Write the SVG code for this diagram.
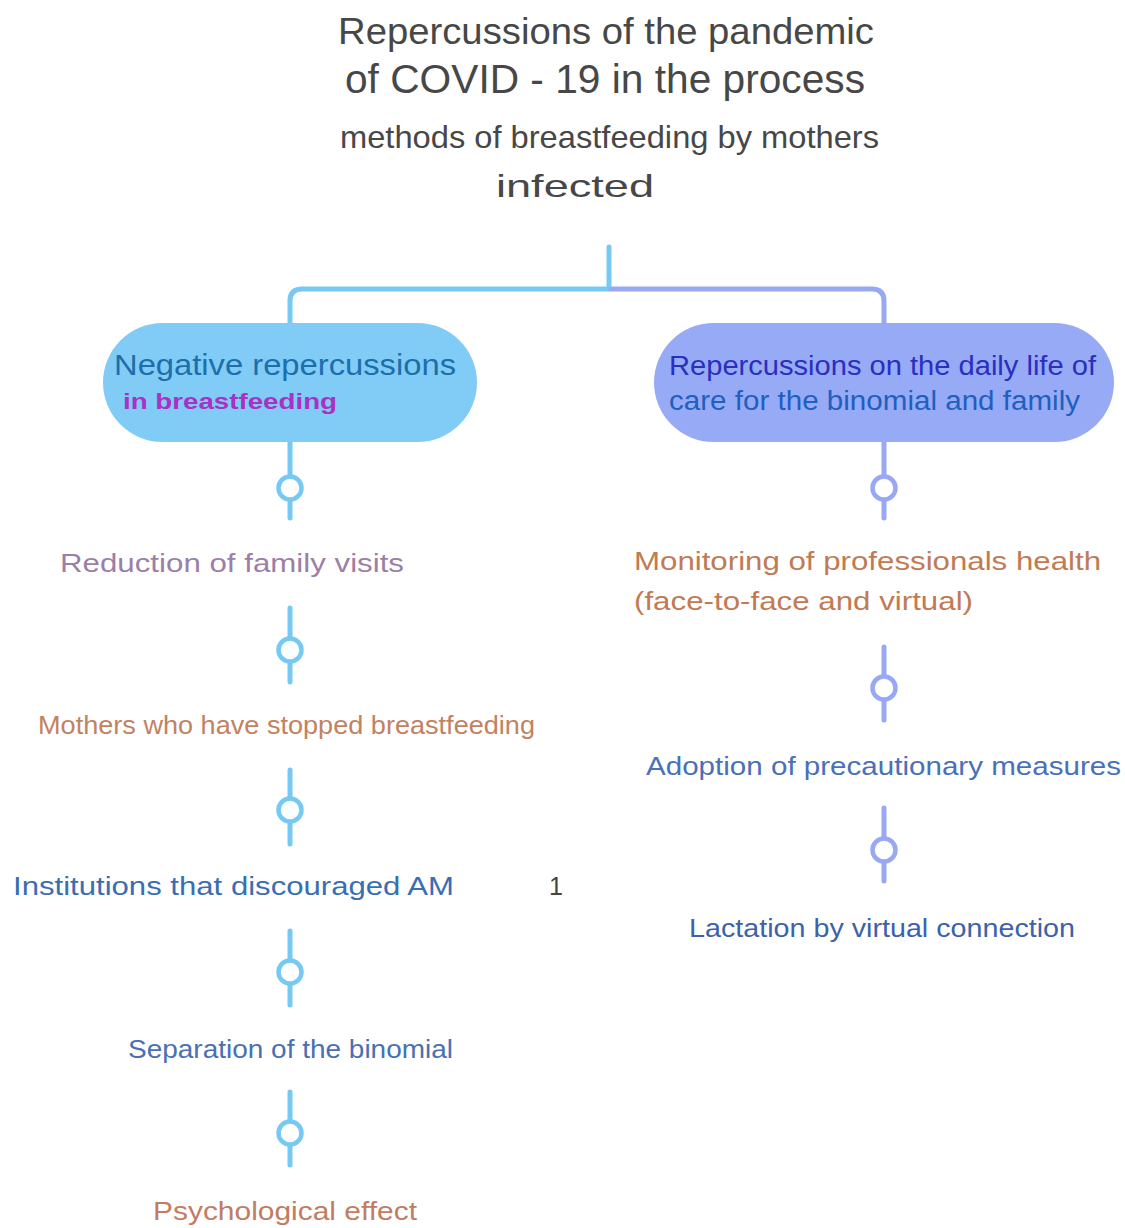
<svg xmlns="http://www.w3.org/2000/svg" width="1125" height="1228" viewBox="0 0 1125 1228">
<style>
text{font-family:"Liberation Sans",Arial,sans-serif}
.title{fill:#474747}
.lb{stroke:#76c9f2;stroke-width:5;fill:none;stroke-linecap:round}
.rb{stroke:#98a8f3;stroke-width:5;fill:none;stroke-linecap:round}
.cl{fill:#fff;stroke:#76c9f2;stroke-width:4.5}
.cr{fill:#fff;stroke:#98a8f3;stroke-width:4.5}
.item{font-size:25px}
</style>
<rect width="1125" height="1228" fill="#fff"/>
<g id="title">
<text class="title" x="338" y="44" font-size="36" textLength="536" lengthAdjust="spacingAndGlyphs">Repercussions of the pandemic</text>
<text class="title" x="345" y="93" font-size="40" textLength="520" lengthAdjust="spacingAndGlyphs">of COVID - 19 in the process</text>
<text class="title" x="340" y="148" font-size="32" textLength="539" lengthAdjust="spacingAndGlyphs">methods of breastfeeding by mothers</text>
<text class="title" x="496" y="197" font-size="32" textLength="158" lengthAdjust="spacingAndGlyphs">infected</text>
</g>
<g id="connectors">
<path class="lb" d="M609 247 V287"/>
<path class="lb" d="M609 289 H302 Q290 289 290 301 V325"/>
<path class="rb" d="M611 289 H872 Q884 289 884 301 V325"/>
<path class="lb" d="M290 442 V518"/>
<circle class="cl" cx="290" cy="488" r="11.5"/>
<path class="lb" d="M290 608 V682"/>
<circle class="cl" cx="290" cy="650" r="11.5"/>
<path class="lb" d="M290 770 V844"/>
<circle class="cl" cx="290" cy="810" r="11.5"/>
<path class="lb" d="M290 931 V1005"/>
<circle class="cl" cx="290" cy="972" r="11.5"/>
<path class="lb" d="M290 1092 V1165"/>
<circle class="cl" cx="290" cy="1133" r="11.5"/>
<path class="rb" d="M884 442 V518"/>
<circle class="cr" cx="884" cy="488" r="11.5"/>
<path class="rb" d="M884 647 V720"/>
<circle class="cr" cx="884" cy="688" r="11.5"/>
<path class="rb" d="M884 808 V881"/>
<circle class="cr" cx="884" cy="850" r="11.5"/>
</g>
<g id="node-negative">
<rect x="103" y="323" width="374" height="119" rx="59.5" fill="#80ccf7"/>
<text x="114" y="375" font-size="29" fill="#1d6eaa" textLength="342" lengthAdjust="spacingAndGlyphs">Negative repercussions</text>
<text x="123" y="409" font-size="22" fill="#a832c4" font-weight="bold" textLength="214" lengthAdjust="spacingAndGlyphs">in breastfeeding</text>
</g>
<g id="node-daily">
<rect x="654" y="323" width="460" height="119" rx="59.5" fill="#97aaf6"/>
<text x="669" y="375" font-size="27" fill="#2a2fbd" textLength="427" lengthAdjust="spacingAndGlyphs">Repercussions on the daily life of</text>
<text x="669" y="410" font-size="27" fill="#1f5fc0" textLength="411" lengthAdjust="spacingAndGlyphs">care for the binomial and family</text>
</g>
<g id="n-reduction"><text class="item" x="60" y="572" fill="#9c7fa6" textLength="344" lengthAdjust="spacingAndGlyphs">Reduction of family visits</text></g>
<g id="n-mothers"><text class="item" x="38" y="734" fill="#c3825f" textLength="497" lengthAdjust="spacingAndGlyphs">Mothers who have stopped breastfeeding</text></g>
<g id="n-institutions"><text class="item" x="13" y="895" fill="#3a6eb2" textLength="441" lengthAdjust="spacingAndGlyphs">Institutions that discouraged AM</text>
<text x="549" y="895" font-size="25" fill="#444">1</text></g>
<g id="n-separation"><text class="item" x="128" y="1058" fill="#4a70b2" textLength="325" lengthAdjust="spacingAndGlyphs">Separation of the binomial</text></g>
<g id="n-psych"><text class="item" x="153" y="1220" fill="#c27c62" textLength="264" lengthAdjust="spacingAndGlyphs">Psychological effect</text></g>
<g id="n-monitoring"><text class="item" x="634" y="570" fill="#c27a52" textLength="467" lengthAdjust="spacingAndGlyphs">Monitoring of professionals health</text>
<text class="item" x="634" y="610" fill="#c27a52" textLength="339" lengthAdjust="spacingAndGlyphs">(face-to-face and virtual)</text></g>
<g id="n-adoption"><text class="item" x="646" y="775" fill="#4a70b8" textLength="475" lengthAdjust="spacingAndGlyphs">Adoption of precautionary measures</text></g>
<g id="n-lactation"><text class="item" x="689" y="937" fill="#3c62aa" textLength="386" lengthAdjust="spacingAndGlyphs">Lactation by virtual connection</text></g>
</svg>
